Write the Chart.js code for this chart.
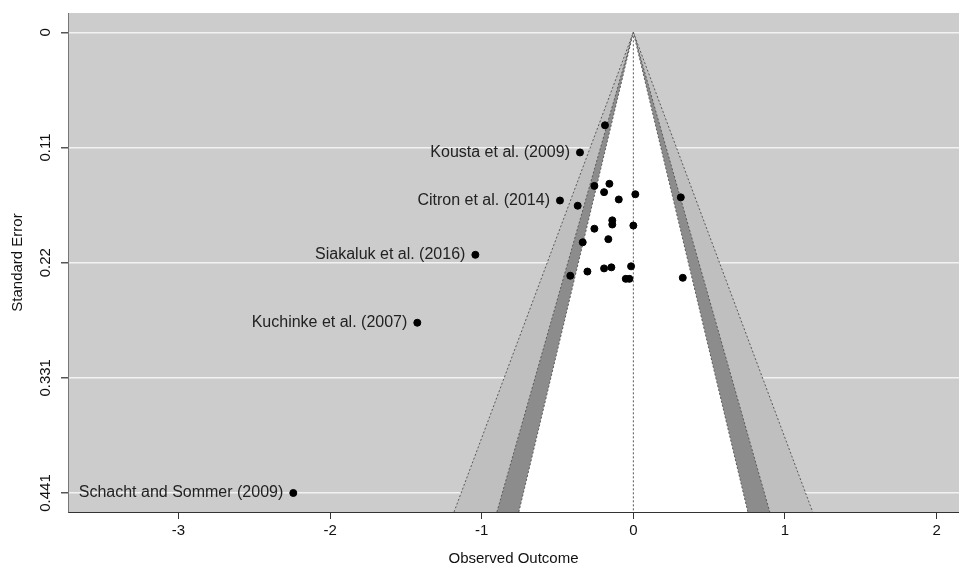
<!DOCTYPE html>
<html>

<head>
  <meta charset="utf-8">
  <title>Funnel Plot</title>
  <style>
    body {
      margin: 0;
      padding: 0;
      background-color: #FFF;
    }

    .chart-box {
      width: 959px;
      height: 568px;
    }
  </style>
</head>

<body>
  <div class="chart-box">
    <canvas id="funnelChart" width="959" height="568"></canvas>
  </div>

  <script src="https://cdn.jsdelivr.net/npm/chart.js"></script>

  <script>
    // Study effects (observed outcome) and their standard errors
    const estimates = [-0.187, -0.352, -0.257, -0.158, -0.193, -0.096, 0.013, 0.313, -0.484, -0.367,
      -0.139, -0.139, 0.0, -0.257, -0.165, -0.334, -1.042, -0.193, -0.145, -0.015,
      -0.303, -0.416, -0.050, -0.026, 0.326, -1.425, -2.243];
    const stdErrors = [0.089, 0.115, 0.147, 0.145, 0.153, 0.160, 0.155, 0.158, 0.161, 0.166,
      0.180, 0.184, 0.185, 0.188, 0.198, 0.201, 0.213, 0.226, 0.225, 0.224,
      0.229, 0.233, 0.236, 0.236, 0.235, 0.278, 0.441];
    const studyLabels = ['', 'Kousta et al. (2009)', '', '', '', '', '', '', 'Citron et al. (2014)', '',
      '', '', '', '', '', '', 'Siakaluk et al. (2016)', '', '', '',
      '', '', '', '', '', 'Kuchinke et al. (2007)', 'Schacht and Sommer (2009)'];

    // Axis ticks
    const xTickValues = [-3, -2, -1, 0, 1, 2];
    const yTickValues = [0, 0.11025, 0.2205, 0.33075, 0.441];
    const yTickLabels = ['0', '0.11', '0.22', '0.331', '0.441'];

    // Contour levels (z for 99%, 95%, 90%) and their shades
    const contourZ = [2.576, 1.96, 1.645];
    const contourShades = ['#bfbfbf', '#8c8c8c', '#ffffff'];

    const xMin = -3.729, xMax = 2.148;
    const yMin = -0.0185, yMax = 0.4592;

    const FONT = 'Liberation Sans, Arial, sans-serif';

    const points = estimates.map((v, i) => ({ x: v, y: stdErrors[i] }));

    // Funnel triangles, filled down to the bottom of the plot
    const funnelSets = contourZ.map((z, i) => ({
      type: 'line',
      data: [{ x: -z * yMax, y: yMax }, { x: 0, y: 0 }, { x: z * yMax, y: yMax }],
      borderColor: '#5a5a5a',
      borderWidth: 1,
      borderDash: [2, 2],
      backgroundColor: contourShades[i],
      fill: { value: yMax },
      pointRadius: 0,
      tension: 0,
      order: 10 - i
    }));

    // Grey plot background
    const plotBackground = {
      id: 'plotBackground',
      beforeDraw(chart) {
        const { ctx, chartArea } = chart;
        ctx.save();
        ctx.fillStyle = '#cccccc';
        ctx.fillRect(chartArea.left, chartArea.top, chartArea.right - chartArea.left, chartArea.bottom - chartArea.top);
        ctx.restore();
      }
    };

    // Vertical y tick labels, centred on their ticks (R style)
    const yLabels = {
      id: 'yLabels',
      afterDraw(chart) {
        const scale = chart.scales.y;
        const ctx = chart.ctx;
        ctx.save();
        ctx.font = '15px ' + FONT;
        ctx.fillStyle = '#111';
        ctx.textAlign = 'center';
        ctx.textBaseline = 'middle';
        yTickValues.forEach((v, i) => {
          const py = scale.getPixelForValue(v);
          ctx.save();
          ctx.translate(46, py);
          ctx.rotate(-Math.PI / 2);
          ctx.fillText(yTickLabels[i], 0, 0);
          ctx.restore();
        });
        ctx.restore();
      }
    };

    // Study names to the left of the labelled points
    const studyNames = {
      id: 'studyNames',
      afterDatasetsDraw(chart) {
        const meta = chart.getDatasetMeta(0);
        const ctx = chart.ctx;
        ctx.save();
        ctx.font = '16px ' + FONT;
        ctx.fillStyle = '#222';
        ctx.textAlign = 'right';
        ctx.textBaseline = 'middle';
        meta.data.forEach((pt, i) => {
          if (studyLabels[i]) ctx.fillText(studyLabels[i], pt.x - 10, pt.y);
        });
        ctx.restore();
      }
    };

    const ctx = document.getElementById('funnelChart').getContext('2d');
    const funnelChart = new Chart(ctx, {
      type: 'scatter',
      data: {
        datasets: [
          {
            data: points,
            backgroundColor: '#000',
            borderColor: '#000',
            pointRadius: 3.5,
            pointHoverRadius: 3.5,
            order: 0
          },
          {
            type: 'line',
            data: [{ x: 0, y: 0 }, { x: 0, y: yMax }],
            borderColor: '#555',
            borderWidth: 1,
            borderDash: [2, 2],
            pointRadius: 0,
            fill: false,
            order: 1
          },
          ...funnelSets
        ]
      },
      options: {
        responsive: false,
        animation: false,
        layout: { autoPadding: false, padding: { top: 13, right: 0, left: 0, bottom: 0 } },
        plugins: {
          legend: { display: false },
          tooltip: { enabled: false }
        },
        scales: {
          x: {
            type: 'linear',
            min: xMin,
            max: xMax,
            afterBuildTicks: (axis) => { axis.ticks = xTickValues.map(v => ({ value: v })); },
            afterFit: (axis) => { axis.height = 56; axis.paddingLeft = 0; axis.paddingRight = 0; },
            grid: { drawOnChartArea: false, tickLength: 7, tickColor: '#333' },
            border: { color: '#333', width: 1 },
            ticks: { color: '#111', font: { family: FONT, size: 15 }, padding: 3 },
            title: {
              display: true, text: 'Observed Outcome', color: '#111',
              font: { family: FONT, size: 15 }, padding: { top: 0, bottom: 0 }
            }
          },
          y: {
            type: 'linear',
            reverse: true,
            min: yMin,
            max: yMax,
            afterBuildTicks: (axis) => { axis.ticks = yTickValues.map(v => ({ value: v })); },
            afterFit: (axis) => { axis.width = 68; axis.paddingTop = 0; axis.paddingBottom = 0; },
            grid: { color: '#f2f2f2', lineWidth: 1.5, tickLength: 7, tickColor: '#555' },
            border: { color: '#777', width: 1 },
            ticks: { display: false },
            title: {
              display: true, text: 'Standard Error', color: '#111',
              font: { family: FONT, size: 15 }, padding: { top: 9, bottom: 0 }
            }
          }
        }
      },
      plugins: [plotBackground, yLabels, studyNames]
    });
  </script>
</body>

</html>
